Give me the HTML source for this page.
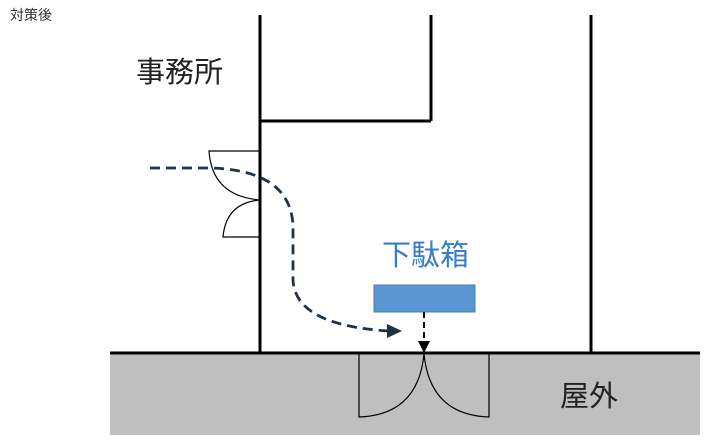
<!DOCTYPE html>
<html><head><meta charset="utf-8"><style>
body{margin:0;background:#fff;}
svg{display:block;}
text{font-family:"Liberation Sans","Noto Sans CJK JP",sans-serif;}
</style></head><body>
<svg width="707" height="441" viewBox="0 0 707 441">
<rect x="110" y="353" width="590" height="82" fill="#bfbfbf"/>
<g stroke="#000" stroke-width="3" fill="none">
<line x1="260" y1="15" x2="260" y2="353"/>
<line x1="431" y1="15" x2="431" y2="121"/>
<line x1="260" y1="121" x2="431" y2="121"/>
<line x1="591" y1="15" x2="591" y2="353"/>
<line x1="110" y1="353" x2="700" y2="353"/>
</g>
<g stroke="#000" stroke-width="1.2" fill="none">
<path d="M260 151 L209 151 Q212 196 260 200"/>
<path d="M260 237 L223 237 Q226 203 260 200"/>
<path d="M359 354 L359 417 Q418 415 424 354"/>
<path d="M489 354 L489 417 Q430 415 424 354"/>
</g>
<path d="M150 168 L210 168 Q290 170 293 225 L293 280 Q295 325 388 331" stroke="#1f3347" stroke-width="2.8" fill="none" stroke-dasharray="10 6"/>
<polygon points="387,324 402,331 387,338" fill="#1f3347"/>
<rect x="374" y="285" width="101" height="27" fill="#5b96d3" stroke="#4a7fb8" stroke-width="1"/>
<line x1="424" y1="312" x2="424" y2="341" stroke="#000" stroke-width="2" stroke-dasharray="6 4"/>
<polygon points="418,341 430,341 424,353" fill="#000"/>
<text x="10" y="20" font-size="14" fill="#333">対策後</text>
<text x="136" y="82" font-size="29" fill="#222">事務所</text>
<text x="382" y="265" font-size="29" fill="#3a7cc8">下駄箱</text>
<text x="560" y="406" font-size="29" fill="#222">屋外</text>
</svg>
</body></html>
